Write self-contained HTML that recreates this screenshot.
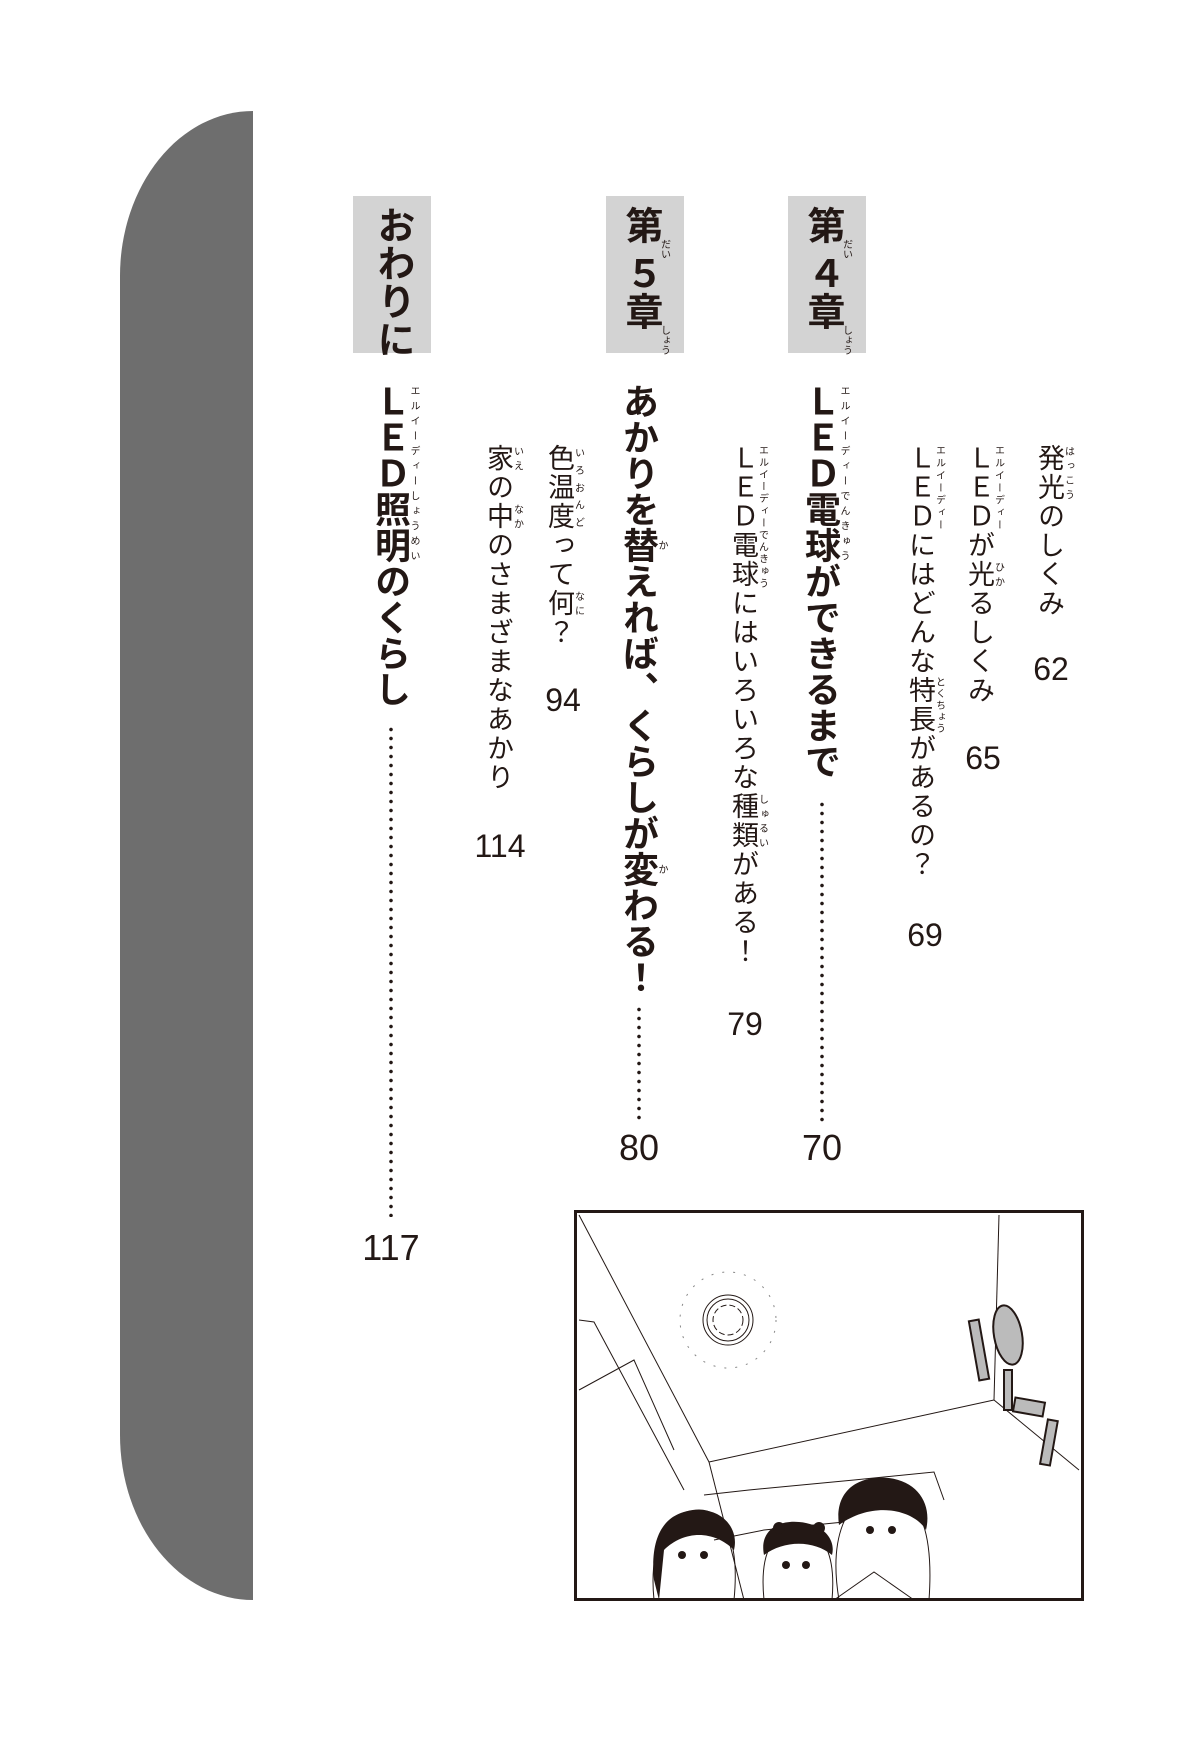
<!DOCTYPE html>
<html><head><meta charset="utf-8"><style>
html,body{margin:0;padding:0;background:#fff;}
body{width:1200px;height:1748px;position:relative;overflow:hidden;font-family:"Liberation Sans","Noto Sans CJK JP",sans-serif;color:#231815;}
.bar{position:absolute;left:120px;top:111px;width:133px;height:1489px;background:#6e6e6e;border-radius:133px 0 0 133px/165px 0 0 165px;}
.box{position:absolute;top:196px;width:78px;height:157px;background:#d3d3d3;}
.v{position:absolute;writing-mode:vertical-rl;white-space:nowrap;line-height:1;}
.s{font-size:27px;letter-spacing:2px;}
.b{font-size:36px;font-weight:bold;letter-spacing:0;}
.c{font-size:38px;font-weight:bold;}
rt{font-size:10px;font-weight:normal;letter-spacing:0;}
.n{position:absolute;font-size:32px;transform:translateX(-50%);line-height:1;}
.nb{font-size:36px;}
.dots{position:absolute;width:4px;background:radial-gradient(circle,#231815 1.6px,transparent 2px) 0 0/4px 9px repeat-y;}
</style></head><body>
<div class="bar"></div>
<div class="box" style="left:788px"></div>
<div class="box" style="left:606px"></div>
<div class="box" style="left:353px"></div>

<div class="v c" style="left:803px;top:206px;">第<ruby>&#8203;<rt>だい</rt></ruby>４章<ruby>&#8203;<rt>しょう</rt></ruby></div>
<div class="v c" style="left:621px;top:206px;">第<ruby>&#8203;<rt>だい</rt></ruby>５章<ruby>&#8203;<rt>しょう</rt></ruby></div>
<div class="v c" style="left:373px;top:206px;">おわりに</div>

<div class="v s" style="left:1035px;top:444px"><ruby>発光<rt>はっこう</rt></ruby>のしくみ</div>
<div class="n" style="left:1051px;top:653px">62</div>
<div class="v s" style="left:965px;top:444px"><ruby>ＬＥＤ<rt>エルイーディー</rt></ruby>が<ruby>光<rt>ひか</rt></ruby>るしくみ</div>
<div class="n" style="left:983px;top:742px">65</div>
<div class="v s" style="left:906px;top:444px"><ruby>ＬＥＤ<rt>エルイーディー</rt></ruby>にはどんな<ruby>特長<rt>とくちょう</rt></ruby>があるの？</div>
<div class="n" style="left:925px;top:919px">69</div>

<div class="v b" style="left:802px;top:383px"><ruby>ＬＥＤ電球<rt>エルイーディーでんきゅう</rt></ruby>ができるまで</div>
<div class="dots" style="left:820px;top:800px;height:322px"></div>
<div class="n nb" style="left:822px;top:1130px">70</div>

<div class="v s" style="left:729px;top:444px"><ruby>ＬＥＤ電球<rt>エルイーディーでんきゅう</rt></ruby>にはいろいろな<ruby>種類<rt>しゅるい</rt></ruby>がある！</div>
<div class="n" style="left:745px;top:1008px">79</div>

<div class="v b" style="left:620px;top:383px">あかりを<ruby>替<rt>か</rt></ruby>えれば、くらしが<ruby>変<rt>か</rt></ruby>わる！</div>
<div class="dots" style="left:637px;top:1005px;height:117px"></div>
<div class="n nb" style="left:639px;top:1130px">80</div>

<div class="v s" style="left:545px;top:444px"><ruby>色温度<rt>いろおんど</rt></ruby>って<ruby>何<rt>なに</rt></ruby>？</div>
<div class="n" style="left:563px;top:684px">94</div>
<div class="v s" style="left:484px;top:444px"><ruby>家<rt>いえ</rt></ruby>の<ruby>中<rt>なか</rt></ruby>のさまざまなあかり</div>
<div class="n" style="left:500px;top:830px">114</div>

<div class="v b" style="left:372px;top:383px"><ruby>ＬＥＤ照明<rt>エルイーディーしょうめい</rt></ruby>のくらし</div>
<div class="dots" style="left:389px;top:725px;height:492px"></div>
<div class="n nb" style="left:391px;top:1230px">117</div>

<svg style="position:absolute;left:574px;top:1210px" width="510" height="391" viewBox="0 0 510 391">
<rect x="1.5" y="1.5" width="507" height="388" fill="#fff" stroke="#231815" stroke-width="3"/>
<g stroke="#231815" stroke-width="1" fill="none">
<line x1="5" y1="5" x2="135" y2="252"/>
<line x1="135" y1="252" x2="420" y2="190"/>
<line x1="420" y1="190" x2="425" y2="5"/>
<line x1="420" y1="190" x2="505" y2="260"/>
<line x1="135" y1="252" x2="170" y2="390"/>
<polyline points="5,110 20,112 110,280"/>
<polyline points="5,180 60,150 100,240"/>
<polyline points="130,285 175,280 280,270 360,262 370,290"/>
<polyline points="140,330 190,320 270,312"/>
<circle cx="154" cy="110" r="25"/><circle cx="154" cy="110" r="21"/>
<circle cx="154" cy="110" r="15" stroke-dasharray="6 3"/>
<circle cx="154" cy="110" r="48" stroke="#888" stroke-dasharray="2 9"/>
<path d="M80 390 C75 340 90 300 125 300 C155 300 165 340 160 390"/>
<path d="M190 390 C185 340 200 320 225 320 C250 320 262 345 258 390"/>
<path d="M265 390 C255 330 270 285 310 282 C345 282 360 320 355 390"/>
<path d="M260 390 L300 362 L340 390"/>
</g>
<g fill="#231815">
<circle cx="108" cy="345" r="4"/><circle cx="130" cy="345" r="4"/>
<circle cx="212" cy="355" r="4"/><circle cx="232" cy="355" r="4"/>
<circle cx="296" cy="320" r="4"/><circle cx="318" cy="320" r="4"/>
<path d="M265 315 C260 280 285 265 315 268 C345 272 358 295 352 320 C340 300 300 290 265 315Z"/>
<path d="M190 345 C185 320 205 310 225 312 C250 314 262 330 258 345 C240 330 210 330 190 345Z"/>
<circle cx="205" cy="318" r="6"/><circle cx="245" cy="318" r="6"/>
<path d="M80 370 C75 320 95 300 125 300 C150 300 165 320 160 340 C140 320 110 320 90 340 L85 390Z"/>
</g>
<g fill="#bbb" stroke="#231815" stroke-width="2">
<rect x="400" y="110" width="10" height="60" transform="rotate(-10 405 140)"/>
<ellipse cx="434" cy="125" rx="14" ry="30" transform="rotate(-10 434 125)"/>
<rect x="430" y="160" width="8" height="40"/>
<rect x="440" y="190" width="30" height="14" transform="rotate(10 455 197)"/>
<rect x="470" y="210" width="10" height="45" transform="rotate(10 475 232)"/>
</g>
</svg>
</body></html>
